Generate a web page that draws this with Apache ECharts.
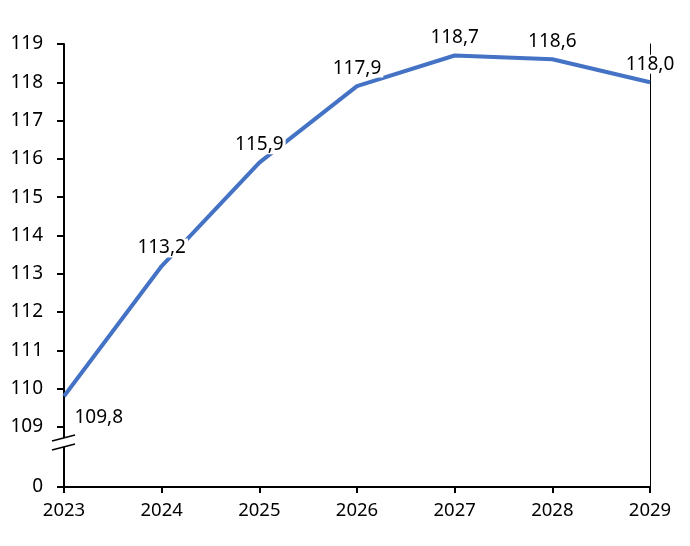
<!DOCTYPE html>
<html>
<head>
<meta charset="utf-8">
<script src="https://cdn.jsdelivr.net/npm/echarts@6/dist/echarts.min.js"></script>
<style>
html,body{margin:0;padding:0;background:#fff;}
#chart{width:690px;height:546px;}
</style>
</head>
<body>
<div id="chart"></div>
<script>
const years = ['2023', '2024', '2025', '2026', '2027', '2028', '2029'];
const values = [109.8, 113.2, 115.9, 117.9, 118.7, 118.6, 118.0];
const yTicks = [0, 109, 110, 111, 112, 113, 114, 115, 116, 117, 118, 119];
const yBreak = { start: 0.5, end: 108.7, gap: 0.77 };

const FONT = 'Noto Sans';
const chart = echarts.init(document.getElementById('chart'));
chart.setOption({
  animation: false,
  backgroundColor: '#ffffff',
  grid: { left: 64, right: 40, top: 44, bottom: 59, containLabel: false },
  xAxis: {
    type: 'category',
    data: years,
    boundaryGap: false,
    axisLine: { lineStyle: { color: '#000', width: 2 } },
    axisTick: { show: true, alignWithLabel: true, length: 6, lineStyle: { color: '#000', width: 2 } },
    axisLabel: { color: '#000', fontFamily: FONT, fontSize: 18.5, margin: 14 },
    splitLine: { show: false }
  },
  yAxis: [{
    type: 'value',
    min: 0,
    max: 119,
    breaks: [yBreak],
    breakArea: { show: true, itemStyle: { color: 'rgba(0,0,0,0)', borderColor: 'rgba(0,0,0,0)' } },
    axisLine: { show: true, lineStyle: { color: '#000', width: 2 } },
    axisTick: { show: true, length: 7, customValues: yTicks, lineStyle: { color: '#000', width: 2 } },
    axisLabel: { color: '#000', fontFamily: FONT, fontSize: 19, margin: 21, customValues: yTicks },
    splitLine: { show: false }
  }, {
    type: 'value',
    position: 'right',
    min: 0, max: 1,
    axisLine: { show: true, lineStyle: { color: '#000', width: 1 } },
    axisTick: { show: false },
    axisLabel: { show: false },
    splitLine: { show: false }
  }],
  series: [{
    type: 'line',
    yAxisIndex: 0,
    symbol: 'circle',
    symbolSize: 1,
    showSymbol: true,
    itemStyle: { color: 'rgba(0,0,0,0)' },
    lineStyle: { color: '#4472C4', width: 4 },
    label: {
      show: true,
      position: 'top',
      distance: 8,
      color: '#000',
      fontFamily: FONT,
      fontSize: 19,
      backgroundColor: '#fff',
      padding: [0, 2],
      formatter: p => p.value.toFixed(1).replace('.', ',')
    },
    data: values.map((v, i) => i === 0 ? {
      value: v,
      label: { position: 'right', distance: 8, offset: [0, 21], backgroundColor: 'rgba(0,0,0,0)' }
    } : v)
  }],
  graphic: [{
    type: 'line',
    shape: { x1: 64, y1: 430, x2: 64, y2: 488 },
    style: { stroke: '#000', lineWidth: 2 },
    z: 99
  }, {
    type: 'polygon',
    shape: { points: [[52, 441], [75, 435], [75, 444], [52, 450]] },
    style: { fill: '#fff' },
    z: 100
  }, {
    type: 'line',
    shape: { x1: 52, y1: 441, x2: 75, y2: 435 },
    style: { stroke: '#000', lineWidth: 1.5 },
    z: 101
  }, {
    type: 'line',
    shape: { x1: 52, y1: 450, x2: 75, y2: 444 },
    style: { stroke: '#000', lineWidth: 1.5 },
    z: 101
  }]
});
</script>
</body>
</html>
